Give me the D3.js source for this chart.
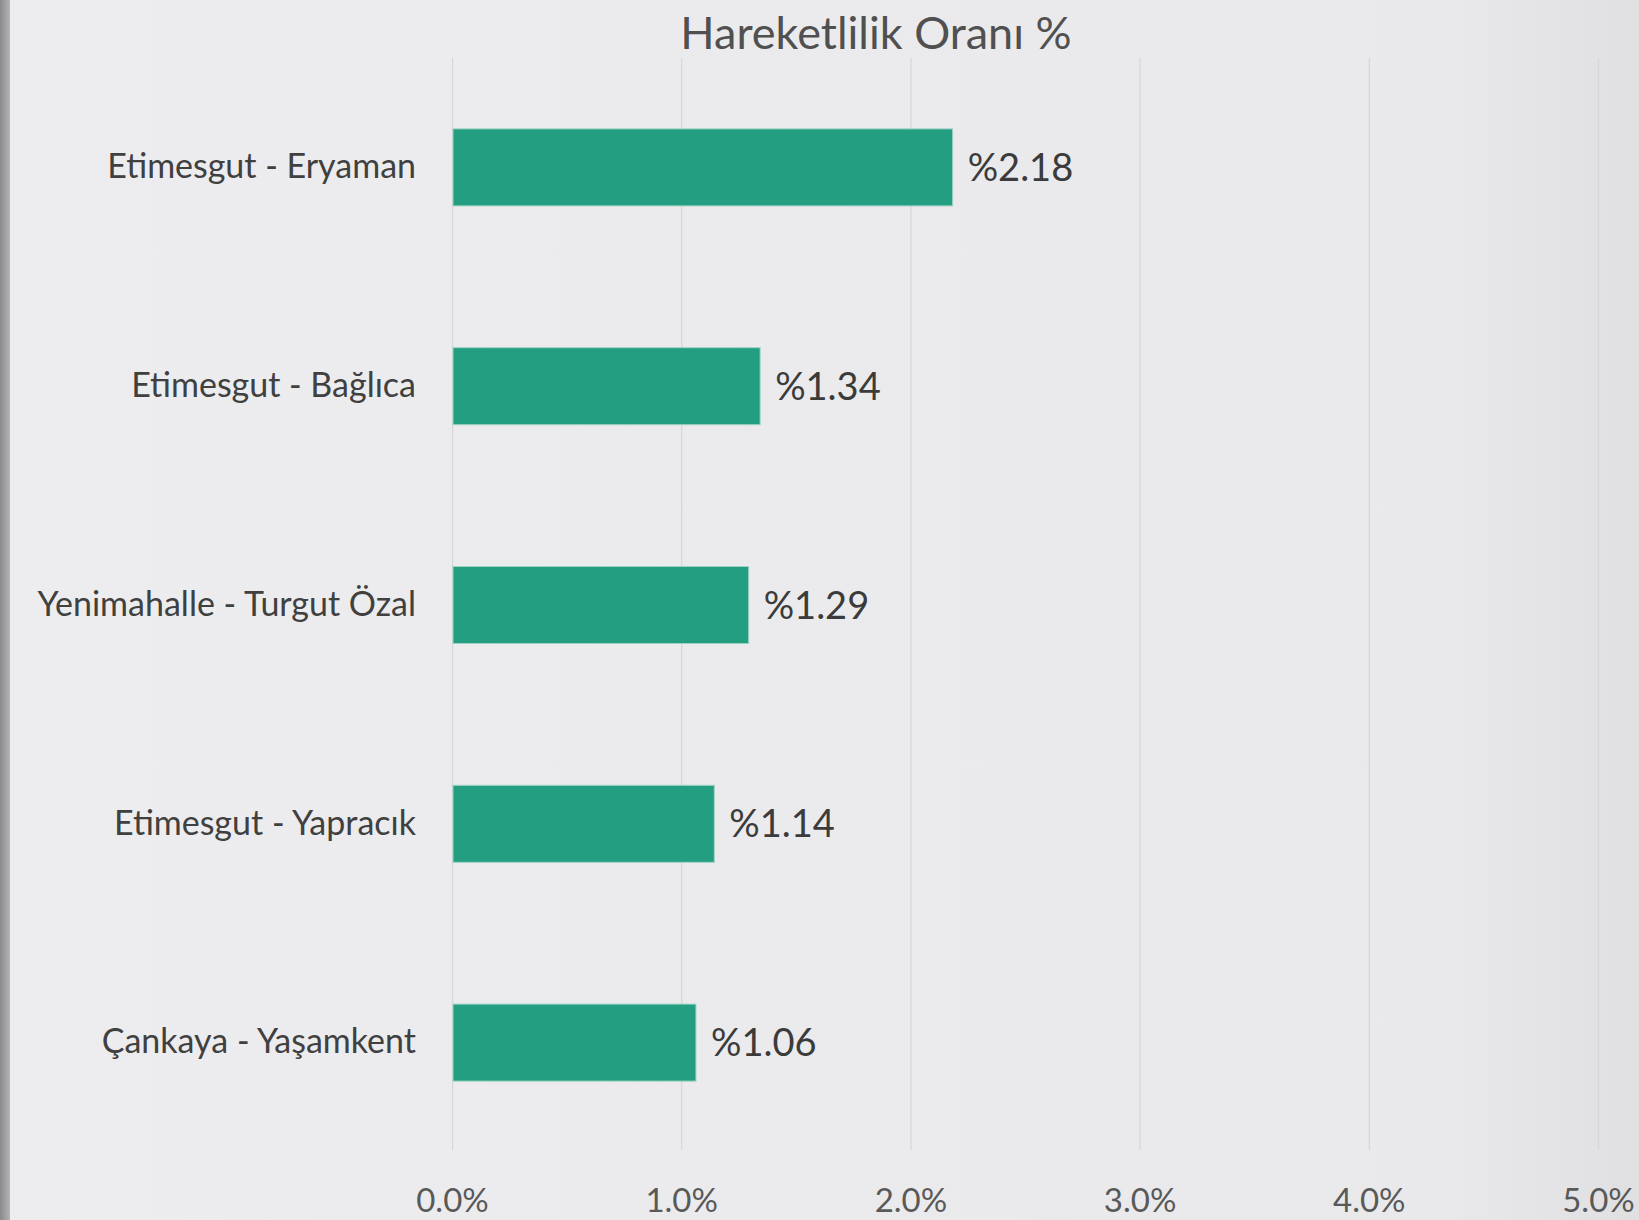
<!DOCTYPE html>
<html>
<head>
<meta charset="utf-8">
<script src="https://cdnjs.cloudflare.com/ajax/libs/d3/7.8.5/d3.min.js"></script>
<style>
  body { margin: 0; background: #ebebed; }
  svg { display: block; }
  text { font-family: Lato, "Open Sans", sans-serif; }
</style>
</head>
<body>
<div class="canvas"></div>
<script>
const categories = ['Etimesgut - Eryaman', 'Etimesgut - Bağlıca', 'Yenimahalle - Turgut Özal', 'Etimesgut - Yapracık', 'Çankaya - Yaşamkent'];
const values = [2.18, 1.34, 1.29, 1.14, 1.06];
const xTicks = [0, 1, 2, 3, 4, 5];
const title = 'Hareketlilik Oranı %';

const width = 1639, height = 1220;
const margin = {top: 58, right: 41, bottom: 67, left: 452};

const svg = d3.select('.canvas')
    .append('svg')
    .attr('width', width)
    .attr('height', height);

// background: soft grey with darker sides
const defs = svg.append('defs');
const bg = defs.append('linearGradient').attr('id', 'bg').attr('x1', 0).attr('x2', 1).attr('y1', 0).attr('y2', 0);
bg.append('stop').attr('offset', '0%').attr('stop-color', '#ededef');
bg.append('stop').attr('offset', '88%').attr('stop-color', '#e9e9eb');
bg.append('stop').attr('offset', '100%').attr('stop-color', '#e0e0e2');
const edge = defs.append('linearGradient').attr('id', 'edge').attr('x1', 0).attr('x2', 1).attr('y1', 0).attr('y2', 0);
edge.append('stop').attr('offset', '0%').attr('stop-color', '#8a8a8c');
edge.append('stop').attr('offset', '100%').attr('stop-color', '#b4b4b6');

svg.append('rect').attr('width', width).attr('height', height).attr('fill', 'url(#bg)');
svg.append('rect').attr('width', 10).attr('height', height).attr('fill', 'url(#edge)');

const x = d3.scaleLinear().domain([0, 5]).range([margin.left, width - margin.right]);
const y = d3.scaleBand().domain(categories)
    .range([margin.top, height - margin.bottom - 1])
    .paddingInner(0.648)
    .paddingOuter(0.324);

// gridlines
svg.append('g')
  .selectAll('line')
  .data(xTicks)
  .join('line')
    .attr('x1', d => x(d) + 0.5)
    .attr('x2', d => x(d) + 0.5)
    .attr('y1', margin.top)
    .attr('y2', height - margin.bottom - 3)
    .attr('stroke', '#d6d6d8')
    .attr('stroke-width', 1.2);

// x axis labels
const xAxis = d3.axisBottom(x).tickValues(xTicks).tickFormat(d => d3.format('.1f')(d) + '%').tickSize(0).tickPadding(0);
const xAxisGroup = svg.append('g')
    .attr('transform', `translate(0, ${height - 8})`)
    .call(xAxis);
xAxisGroup.select('.domain').remove();
xAxisGroup.selectAll('text')
    .attr('dy', 0)
    .attr('y', 0)
    .attr('fill', '#595959')
    .style('font-size', '33px');

// y axis labels
const yAxis = d3.axisLeft(y).tickSize(0).tickPadding(36);
const yAxisGroup = svg.append('g')
    .attr('transform', `translate(${margin.left}, 0)`)
    .call(yAxis);
yAxisGroup.select('.domain').remove();
yAxisGroup.selectAll('text')
    .attr('fill', '#404040')
    .style('font-size', '34px');

// bars
svg.append('g')
  .selectAll('rect')
  .data(values)
  .join('rect')
    .attr('x', x(0) + 1)
    .attr('y', (d, i) => y(categories[i]))
    .attr('width', d => x(d) - x(0))
    .attr('height', y.bandwidth())
    .attr('fill', '#239e80')
    .attr('stroke', '#9fd3c4')
    .attr('stroke-width', 1);

// value labels
svg.append('g')
  .selectAll('text')
  .data(values)
  .join('text')
    .attr('x', d => x(d) + 16)
    .attr('y', (d, i) => y(categories[i]) + y.bandwidth() / 2)
    .attr('dy', '0.36em')
    .attr('fill', '#3b3b3b')
    .style('font-size', '38px')
    .text(d => '%' + d3.format('.2f')(d));

svg.append('text')
    .attr('x', 876)
    .attr('y', 49)
    .attr('text-anchor', 'middle')
    .attr('fill', '#505050')
    .style('font-size', '45px')
    .text(title);
</script>
</body>
</html>
